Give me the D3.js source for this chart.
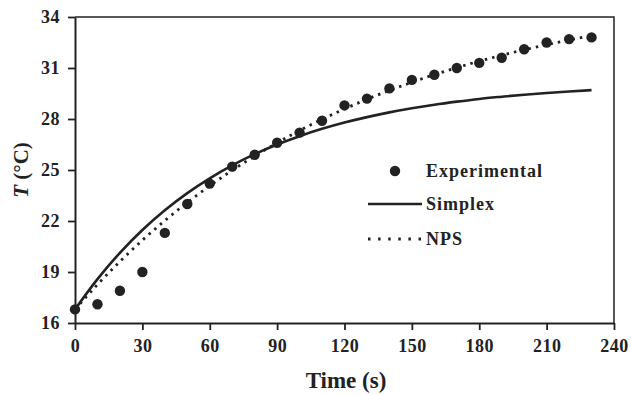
<!DOCTYPE html>
<html>
<head>
<meta charset="utf-8">
<script src="https://cdn.jsdelivr.net/npm/d3@7"></script>
<style>
  body { margin: 0; background: #fff; }
  svg { display: block; }
  text { font-family: "Liberation Serif", "Times New Roman", serif; font-weight: bold; fill: #222; }
</style>
</head>
<body>
<svg id="chart" width="631" height="395"></svg>
<script>
// time samples (s)
const times = [0, 10, 20, 30, 40, 50, 60, 70, 80, 90, 100, 110, 120, 130, 140, 150, 160, 170, 180, 190, 200, 210, 220, 230];
// measured temperature
const experimental = [16.8, 17.1, 17.9, 19.0, 21.3, 23.0, 24.2, 25.2, 25.9, 26.6, 27.2, 27.9, 28.8, 29.2, 29.8, 30.3, 30.6, 31.0, 31.3, 31.6, 32.1, 32.5, 32.7, 32.8];
// fitted curves
const simplex = [16.8, 18.58, 20.13, 21.47, 22.63, 23.64, 24.51, 25.27, 25.93, 26.5, 26.99, 27.42, 27.79, 28.11, 28.39, 28.63, 28.84, 29.02, 29.18, 29.31, 29.43, 29.53, 29.62, 29.7];
const nps = [16.8, 18.26, 19.62, 20.87, 22.02, 23.09, 24.07, 24.98, 25.82, 26.6, 27.32, 27.98, 28.59, 29.16, 29.68, 30.16, 30.61, 31.02, 31.4, 31.75, 32.07, 32.37, 32.65, 32.9];
const xTicks = [0, 30, 60, 90, 120, 150, 180, 210, 240];
const yTicks = [16, 19, 22, 25, 28, 31, 34];
const legendItems = ["Experimental", "Simplex", "NPS"];

const svg = d3.select("#chart");
const m = { left: 75, top: 17, right: 614, bottom: 323 };
const ink = "#222";

const x = d3.scaleLinear().domain([0, 240]).range([m.left, m.right]);
const y = d3.scaleLinear().domain([16, 34]).range([m.bottom, m.top]);

// frame: top and right
svg.append("path")
  .attr("d", `M${m.left},${m.top}H${m.right}V${m.bottom}`)
  .attr("fill", "none")
  .attr("stroke", ink)
  .attr("stroke-width", 1.5);

const xAxis = svg.append("g")
  .attr("transform", `translate(0,${m.bottom})`)
  .call(d3.axisBottom(x).tickValues(xTicks).tickSize(7).tickPadding(9).tickSizeOuter(0));
const yAxis = svg.append("g")
  .attr("transform", `translate(${m.left},0)`)
  .call(d3.axisLeft(y).tickValues(yTicks).tickSize(7).tickPadding(8).tickSizeOuter(0));

[xAxis, yAxis].forEach(g => {
  g.select(".domain").attr("stroke", ink).attr("stroke-width", 2);
  g.selectAll(".tick line").attr("stroke", ink).attr("stroke-width", 1.8);
  g.selectAll(".tick text")
    .attr("fill", ink)
    .style("font-family", '"Liberation Serif", serif')
    .style("font-weight", "bold")
    .style("font-size", "18px")
    .style("letter-spacing", "0.5px");
});

// axis titles
svg.append("text")
  .attr("x", 346).attr("y", 388)
  .attr("text-anchor", "middle")
  .style("font-size", "23px")
  .text("Time (s)");

const yt = svg.append("text")
  .attr("transform", "translate(28,170) rotate(-90)")
  .attr("text-anchor", "middle")
  .style("font-size", "21px");
yt.append("tspan").style("font-style", "italic").text("T");
yt.append("tspan").text(" (°C)");

// curves
const line = (vals) => d3.line()
  .x((d, i) => x(times[i]))
  .y(d => y(d))
  .curve(d3.curveMonotoneX)(vals);

svg.append("path")
  .attr("d", line(simplex))
  .attr("fill", "none")
  .attr("stroke", ink)
  .attr("stroke-width", 2.6);

svg.append("path")
  .attr("d", line(nps))
  .attr("fill", "none")
  .attr("stroke", ink)
  .attr("stroke-width", 2.8)
  .attr("stroke-dasharray", "2.5,5");

svg.append("g").selectAll("circle")
  .data(experimental)
  .join("circle")
  .attr("cx", (d, i) => x(times[i]))
  .attr("cy", d => y(d))
  .attr("r", 5.2)
  .attr("fill", ink);

// legend
const lg = svg.append("g");
const rowY = [171, 204, 239];
lg.append("circle").attr("cx", 395).attr("cy", rowY[0]).attr("r", 5.2).attr("fill", ink);
lg.append("line").attr("x1", 368).attr("x2", 422).attr("y1", rowY[1]).attr("y2", rowY[1])
  .attr("stroke", ink).attr("stroke-width", 2.6);
lg.append("line").attr("x1", 368).attr("x2", 421).attr("y1", rowY[2]).attr("y2", rowY[2])
  .attr("stroke", ink).attr("stroke-width", 2.8).attr("stroke-dasharray", "2.5,7.6");
lg.selectAll("text")
  .data(legendItems)
  .join("text")
  .attr("x", 426)
  .attr("y", (d, i) => rowY[i] + 6)
  .style("font-size", "18px")
  .style("letter-spacing", "1px")
  .text(d => d);
</script>
</body>
</html>
